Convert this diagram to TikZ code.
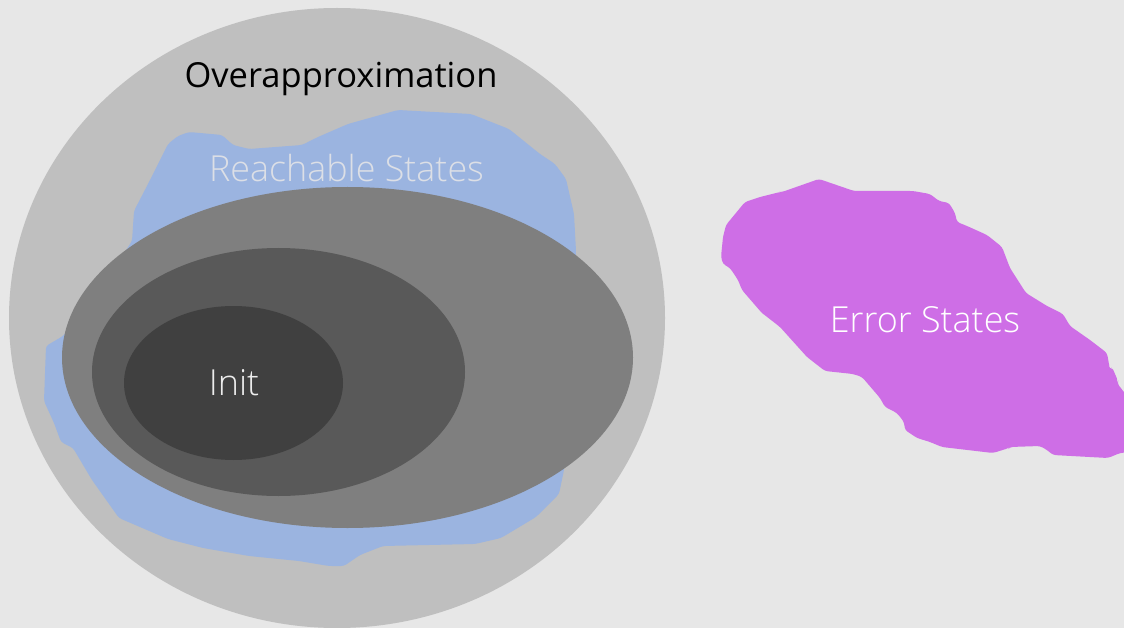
\documentclass[tikz,border=0pt]{standalone}
\usepackage{fontspec}
\setmainfont{Open Sans}
\IfFontExistsTF{Open Sans Light}
  {\newfontfamily\lightfont{Open Sans Light}}
  {\newfontfamily\lightfont{Open Sans}}
\definecolor{bgcol}{HTML}{E7E7E7}
\definecolor{overcol}{HTML}{BFBFBF}
\definecolor{reachcol}{HTML}{9BB4E0}
\definecolor{errcol}{HTML}{CE6EE6}
\definecolor{ring1}{HTML}{7F7F7F}
\definecolor{ring2}{HTML}{595959}
\definecolor{ring3}{HTML}{404040}
\definecolor{reachtext}{HTML}{DCDFE6}
\definecolor{inittext}{HTML}{EDEDED}
\tikzset{
  blob/.style={rounded corners=3pt},
  label/.style={font=\fontsize{34.5}{40}\selectfont, inner sep=0pt, anchor=base},
  lightlabel/.style={label, font=\lightfont\fontsize{35.9}{42}\selectfont},
}
\begin{document}
\begin{tikzpicture}[x=1pt, y=-1pt]
  \fill[bgcol] (0,0) rectangle (1124,628);
  \useasboundingbox (0,0) rectangle (1124,628);
  \clip (0,0) rectangle (1124,628);

  % over-approximation
  \coordinate (overc) at (337,318);
  \fill[overcol] (overc) ellipse [x radius=328pt, y radius=310pt];

  % reachable states
  \fill[reachcol, blob] (149,182) -- (159,162) -- (168,144) -- (178,136) -- (189,132)
    -- (222,135) -- (233,145) -- (249,149) -- (302,145) -- (318,137) -- (348,124)
    -- (398,110) -- (471,114) -- (509,129) -- (540,154) -- (555,164) -- (566,179)
    -- (574,214) -- (576,251) -- (574,300) -- (564,470) -- (559,494) -- (536,517)
    -- (501,538) -- (475,544) -- (383,546) -- (360,555) -- (344,566) -- (329,566)
    -- (299,561) -- (249,556) -- (203,548) -- (168,539) -- (119,518) -- (92,480)
    -- (73,448) -- (61,442) -- (54,423) -- (44,401) -- (46,346) -- (63,336)
    -- (100,290) -- (132,241) -- (134,211) -- cycle;

  % nested sets
  \coordinate (c1) at (347.5,357.5);
  \coordinate (c2) at (278.5,372);
  \coordinate (c3) at (233.5,383);
  \fill[ring1] (c1) ellipse [x radius=285.5pt, y radius=170.5pt];
  \fill[ring2] (c2) ellipse [x radius=186.5pt, y radius=124pt];
  \fill[ring3] (c3) ellipse [x radius=109.5pt, y radius=77pt];

  % error states
  \fill[errcol, blob] (819,179) -- (854,191) -- (913,191) -- (930,194) -- (939,201)
    -- (949,203) -- (955,213) -- (957,222) -- (967,226) -- (987,235) -- (1002,247)
    -- (1010,268) -- (1026,293) -- (1047,306) -- (1063,314) -- (1070,326)
    -- (1090,340) -- (1107,353) -- (1110,370) -- (1112,367) -- (1118,381)
    -- (1117,383) -- (1130,400) -- (1130,452) -- (1120,453) -- (1108,458)
    -- (1053,455) -- (1047,450) -- (1040,446) -- (1010,447) -- (1009,448)
    -- (993,453) -- (942,447) -- (930,442) -- (917,438) -- (905,430) -- (904,422)
    -- (897,413) -- (885,407) -- (880,398) -- (862,377) -- (853,374) -- (825,371)
    -- (807,357) -- (780,327) -- (762,313) -- (761,312) -- (742,290) -- (738,280)
    -- (730,268) -- (723,264) -- (721,257) -- (723,237) -- (726,225) -- (745,202)
    -- (760,197) -- (780,192) -- (782,192) -- cycle;

  % labels
  \node[label, text=black] (over) at (341,88) {Overapproximation};
  \node[lightlabel, text=reachtext] (reach) at (346.5,182) {Reachable States};
  \node[lightlabel, text=inittext] (init) at (234,395) {Init};
  \node[lightlabel, text=white] (err) at (925,332) {Error States};
\end{tikzpicture}
\end{document}
